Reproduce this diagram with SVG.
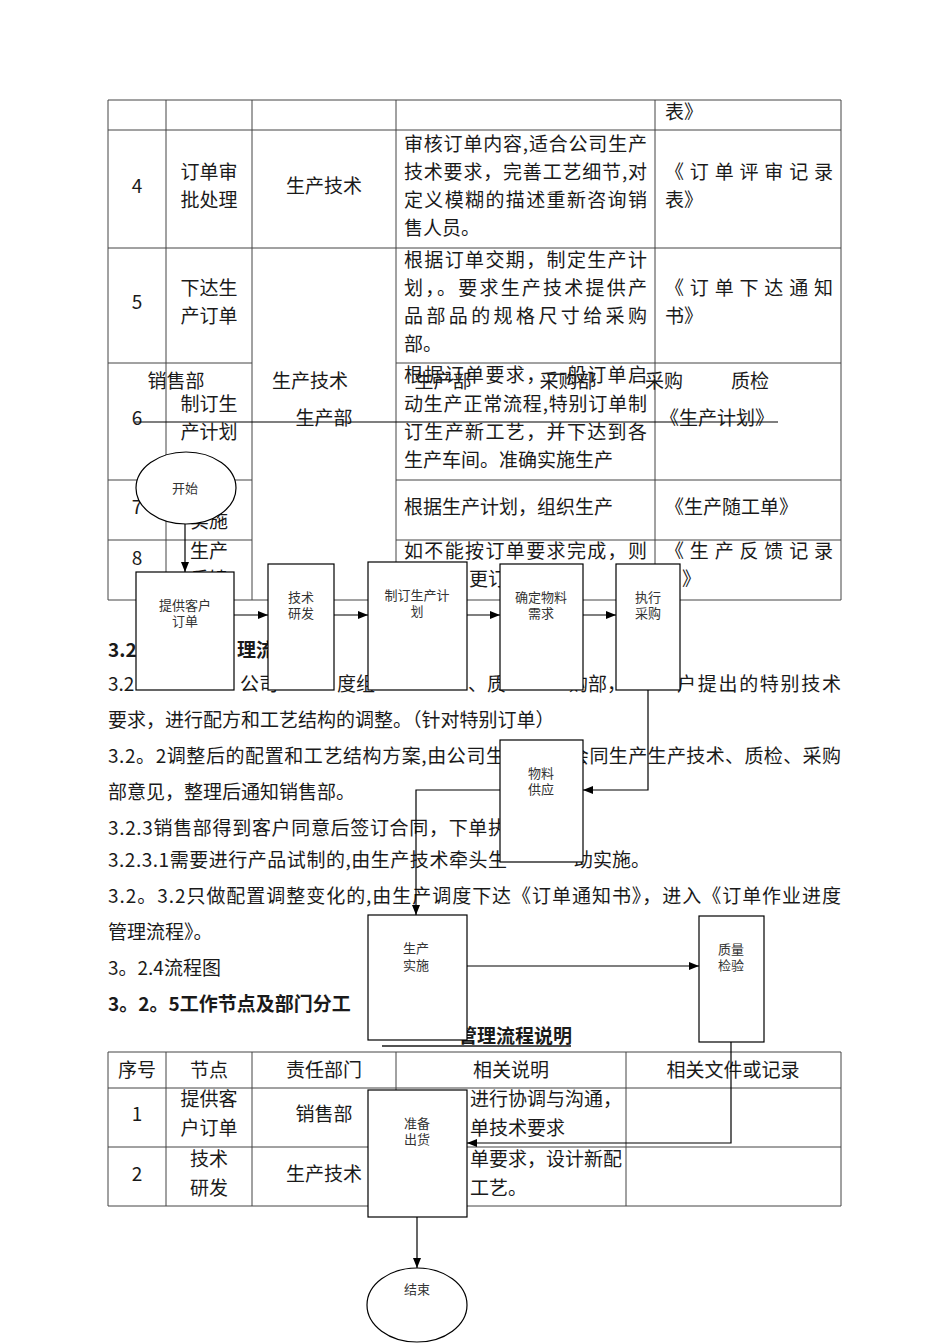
<svg xmlns="http://www.w3.org/2000/svg" width="950" height="1344" viewBox="0 0 950 1344">
<style>
.t{font-family:"Noto Sans CJK SC","Noto Sans",sans-serif;font-size:19px;fill:#1a1a1a;dominant-baseline:central}
.c{text-anchor:middle}
.b{font-weight:bold}
.f{font-family:"Noto Sans CJK SC","Noto Sans",sans-serif;font-size:13px;fill:#333;text-anchor:middle;dominant-baseline:central}
.grid{stroke:#444;stroke-width:1;fill:none}
.node{fill:#fff;stroke:#000;stroke-width:1.2}
.edge{stroke:#000;stroke-width:1.2;fill:none}
</style>
<defs>
<marker id="arr" viewBox="0 0 10 8" refX="10" refY="4" markerWidth="10" markerHeight="8" markerUnits="userSpaceOnUse" orient="auto"><path d="M0,0 L10,4 L0,8 z" fill="#000"/></marker>
</defs>

<g id="table1">
<path class="grid" d="M108,100H841M108,130H841M108,248H841M108,363H252M396,363H841M108,480H252M396,480H841M108,540H252M396,540H841M108,600H841M108,100V600M166,100V600M252,100V600M396,100V600M655,100V600M841,100V600"/>
<text class="t" x="665" y="110">表》</text>
<text class="t c" x="137" y="184">4</text>
<text class="t c" x="209" y="170">订单审</text>
<text class="t c" x="209" y="198">批处理</text>
<text class="t c" x="324" y="184">生产技术</text>
<text class="t" x="404" y="142" textLength="243" lengthAdjust="spacing">审核订单内容,适合公司生产</text>
<text class="t" x="404" y="170" textLength="243" lengthAdjust="spacing">技术要求，完善工艺细节,对</text>
<text class="t" x="404" y="198" textLength="243" lengthAdjust="spacing">定义模糊的描述重新咨询销</text>
<text class="t" x="404" y="226">售人员。</text>
<text class="t" x="665" y="170" textLength="168" lengthAdjust="spacing">《订单评审记录</text>
<text class="t" x="665" y="198">表》</text>
<text class="t c" x="137" y="300">5</text>
<text class="t c" x="209" y="286">下达生</text>
<text class="t c" x="209" y="314">产订单</text>
<text class="t" x="404" y="258" textLength="243" lengthAdjust="spacing">根据订单交期，制定生产计</text>
<text class="t" x="404" y="286" textLength="243" lengthAdjust="spacing">划，。要求生产技术提供产</text>
<text class="t" x="404" y="314" textLength="243" lengthAdjust="spacing">品部品的规格尺寸给采购</text>
<text class="t" x="404" y="342">部。</text>
<text class="t" x="665" y="286" textLength="168" lengthAdjust="spacing">《订单下达通知</text>
<text class="t" x="665" y="314">书》</text>
<text class="t c" x="137" y="416">6</text>
<text class="t c" x="209" y="402">制订生</text>
<text class="t c" x="209" y="430">产计划</text>
<text class="t c" x="324" y="416">生产部</text>
<text class="t" x="404" y="373" textLength="243" lengthAdjust="spacing">根据订单要求，一般订单启</text>
<text class="t" x="404" y="402" textLength="243" lengthAdjust="spacing">动生产正常流程,特别订单制</text>
<text class="t" x="404" y="430" textLength="243" lengthAdjust="spacing">订生产新工艺，并下达到各</text>
<text class="t" x="404" y="458">生产车间。准确实施生产</text>
<text class="t c" x="717" y="416">《生产计划》</text>
<text class="t c" x="137" y="505">7</text>
<text class="t c" x="209" y="491">生产</text>
<text class="t c" x="209" y="519">实施</text>
<text class="t" x="404" y="505">根据生产计划，组织生产</text>
<text class="t" x="665" y="505">《生产随工单》</text>
<text class="t c" x="137" y="556">8</text>
<text class="t c" x="209" y="549">生产</text>
<text class="t c" x="209" y="577">反馈</text>
<text class="t" x="404" y="549" textLength="243" lengthAdjust="spacing">如不能按订单要求完成，则</text>
<text class="t" x="469" y="577">更订</text>
<text class="t" x="665" y="549" textLength="168" lengthAdjust="spacing">《生产反馈记录</text>
<text class="t" x="682" y="577">》</text>
</g>

<g id="body">
<text class="t b" x="108" y="648">3.2<tspan x="237">理流</tspan></text>
<text class="t" x="108" y="682">3.2<tspan x="240">公司</tspan><tspan x="337">度组</tspan><tspan x="468">、质</tspan><tspan x="569">购部，</tspan><tspan x="677" textLength="164" lengthAdjust="spacing">户提出的特别技术</tspan></text>
<text class="t" x="108" y="718">要求，进行配方和工艺结构的调整。（针对特别订单）</text>
<text class="t" x="108" y="754"><tspan textLength="397" lengthAdjust="spacing">3.2。2调整后的配置和工艺结构方案,由公司生</tspan><tspan x="570" textLength="271" lengthAdjust="spacing">会同生产生产技术、质检、采购</tspan></text>
<text class="t" x="108" y="790">部意见，整理后通知销售部。</text>
<text class="t" x="108" y="826" textLength="399" lengthAdjust="spacing">3.2.3销售部得到客户同意后签订合同，下单执</text>
<text class="t" x="108" y="858"><tspan textLength="399" lengthAdjust="spacing">3.2.3.1需要进行产品试制的,由生产技术牵头生</tspan><tspan x="574">助实施。</tspan></text>
<text class="t" x="108" y="894" textLength="733" lengthAdjust="spacing">3.2。3.2只做配置调整变化的,由生产调度下达《订单通知书》，进入《订单作业进度</text>
<text class="t" x="108" y="930">管理流程》。</text>
<text class="t" x="108" y="966">3。2.4流程图</text>
<text class="t b" x="108" y="1002">3。2。5工作节点及部门分工</text>
<text class="t b" x="458" y="1034">管理流程说明</text>
<path d="M382,1046H571" stroke="#1a1a1a" stroke-width="1.5"/>
</g>

<g id="table2">
<path class="grid" d="M108,1052H841M108,1088H841M108,1147H841M108,1206H841M108,1052V1206M166,1052V1206M252,1052V1206M396,1052V1206M626,1052V1206M841,1052V1206"/>
<text class="t c" x="137" y="1068">序号</text>
<text class="t c" x="209" y="1068">节点</text>
<text class="t c" x="324" y="1068">责任部门</text>
<text class="t c" x="511" y="1068">相关说明</text>
<text class="t c" x="733" y="1068">相关文件或记录</text>
<text class="t c" x="137" y="1112">1</text>
<text class="t c" x="209" y="1097">提供客</text>
<text class="t c" x="209" y="1126">户订单</text>
<text class="t c" x="324" y="1112">销售部</text>
<text class="t" x="470" y="1097">进行协调与沟通，</text>
<text class="t" x="470" y="1126">单技术要求</text>
<text class="t c" x="137" y="1172">2</text>
<text class="t c" x="209" y="1157">技术</text>
<text class="t c" x="209" y="1186">研发</text>
<text class="t c" x="324" y="1172">生产技术</text>
<text class="t" x="470" y="1157">单要求，设计新配</text>
<text class="t" x="470" y="1186">工艺。</text>
</g>

<g id="lanes">
<text class="t c" x="176" y="379">销售部</text>
<text class="t c" x="310" y="379">生产技术</text>
<text class="t c" x="443" y="379">生产部</text>
<text class="t c" x="568" y="379">采购部</text>
<text class="t c" x="664" y="379">采购</text>
<text class="t c" x="750" y="379">质检</text>
<path d="M135,422H778" stroke="#000" stroke-width="1.2"/>
</g>

<g id="n-start"><ellipse class="node" cx="186" cy="488" rx="50" ry="36"/><text class="f" x="185" y="487">开始</text></g>
<g id="n-order"><rect class="node" x="136" y="572" width="98" height="118"/><text class="f" x="185" y="604">提供客户</text><text class="f" x="185" y="620">订单</text></g>
<g id="n-tech"><rect class="node" x="268" y="564" width="66" height="126"/><text class="f" x="301" y="596">技术</text><text class="f" x="301" y="612">研发</text></g>
<g id="n-plan"><rect class="node" x="368" y="562" width="99" height="128"/><text class="f" x="417" y="594">制订生产计</text><text class="f" x="417" y="610">划</text></g>
<g id="n-need"><rect class="node" x="500" y="564" width="83" height="126"/><text class="f" x="541" y="596">确定物料</text><text class="f" x="541" y="612">需求</text></g>
<g id="n-buy"><rect class="node" x="616" y="564" width="64" height="126"/><text class="f" x="648" y="596">执行</text><text class="f" x="648" y="612">采购</text></g>
<g id="n-supply"><rect class="node" x="500" y="740" width="83" height="122"/><text class="f" x="541" y="772">物料</text><text class="f" x="541" y="788">供应</text></g>
<g id="n-prod"><rect class="node" x="368" y="915" width="99" height="125"/><text class="f" x="416" y="947">生产</text><text class="f" x="416" y="964">实施</text></g>
<g id="n-qc"><rect class="node" x="699" y="916" width="65" height="126"/><text class="f" x="731" y="948">质量</text><text class="f" x="731" y="964">检验</text></g>
<g id="n-ship"><rect class="node" x="368" y="1090" width="99" height="127"/><text class="f" x="417" y="1122">准备</text><text class="f" x="417" y="1138">出货</text></g>
<g id="n-end"><ellipse class="node" cx="417" cy="1305" rx="50" ry="37"/><text class="f" x="417" y="1288">结束</text></g>

<g id="connectors">
<path class="edge" d="M185,524V572" marker-end="url(#arr)"/>
<path class="edge" d="M234,615H268" marker-end="url(#arr)"/>
<path class="edge" d="M334,615H368" marker-end="url(#arr)"/>
<path class="edge" d="M467,615H500" marker-end="url(#arr)"/>
<path class="edge" d="M583,615H616" marker-end="url(#arr)"/>
<path class="edge" d="M648,690V790H583" marker-end="url(#arr)"/>
<path class="edge" d="M500,790H416V915" marker-end="url(#arr)"/>
<path class="edge" d="M467,966H699" marker-end="url(#arr)"/>
<path class="edge" d="M731,1042V1143H467" marker-end="url(#arr)"/>
<path class="edge" d="M417,1217V1268" marker-end="url(#arr)"/>
</g>
</svg>
